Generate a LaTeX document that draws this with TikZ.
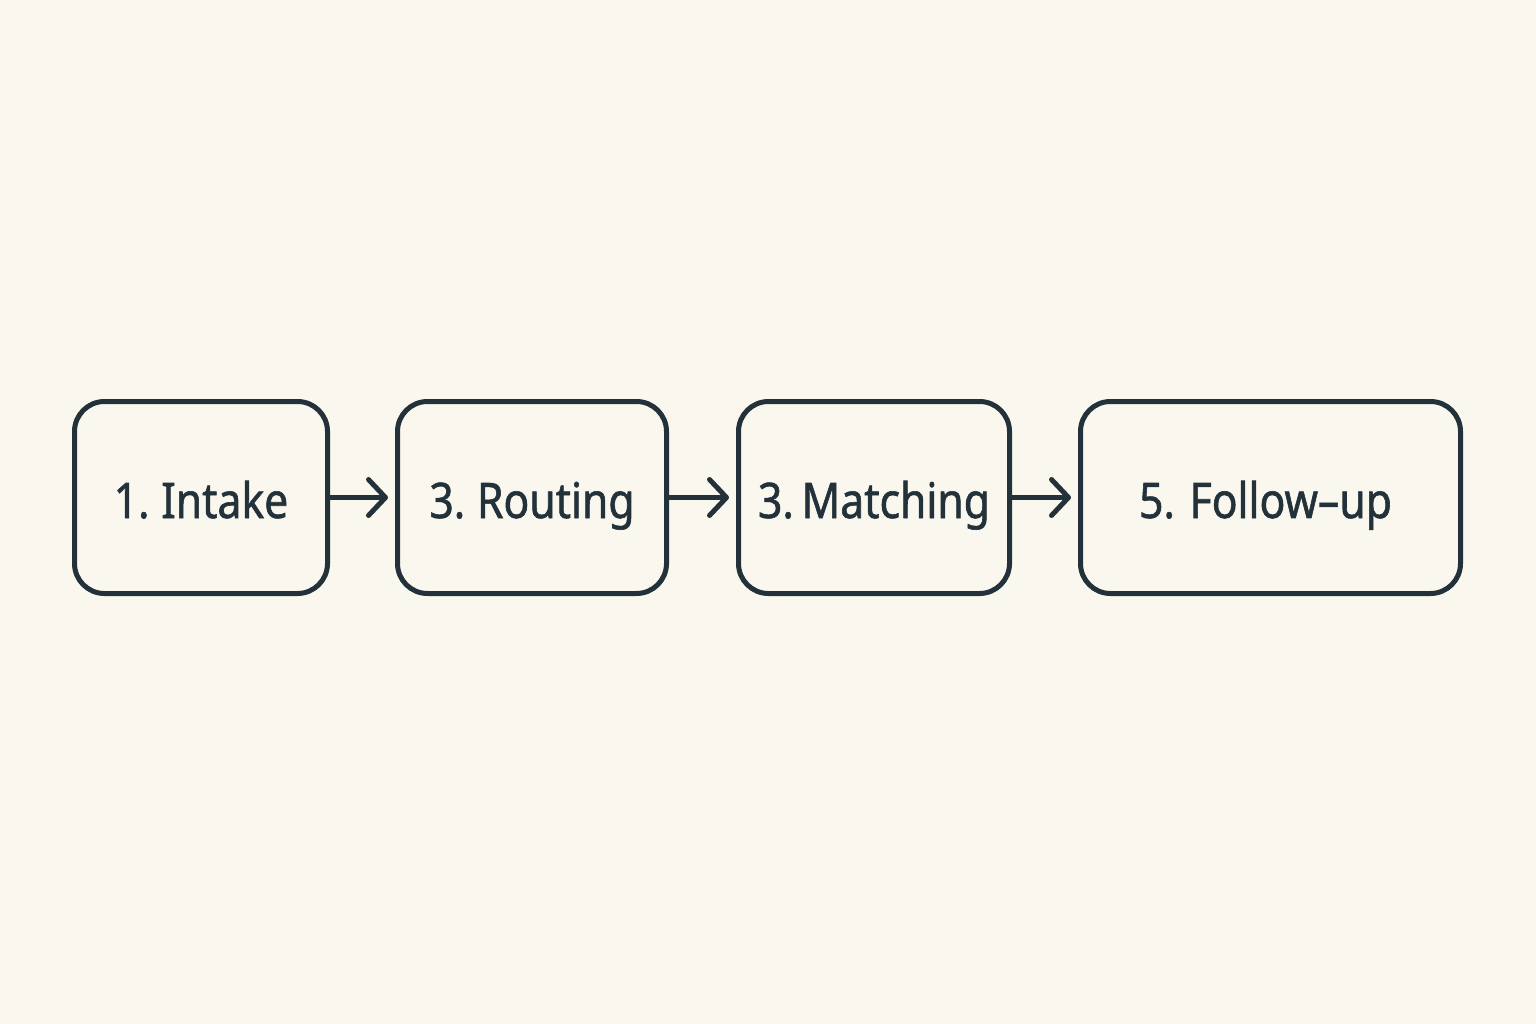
\documentclass[tikz,border=0pt]{standalone}
\usepackage{fontspec}
\setmainfont{Noto Sans}[FakeStretch=0.87,FakeBold=1.2]
\usetikzlibrary{arrows.meta}
\definecolor{bg}{HTML}{FAF7EE}
\definecolor{ink}{HTML}{23313A}
\begin{document}
\begin{tikzpicture}[x=1pt,y=-1pt,
  stepbox/.style={draw=ink, line width=5pt, rounded corners=30pt, minimum height=192pt,
    text=ink, font=\fontsize{49}{58}\selectfont, text height=41pt, text depth=0pt, inner sep=0pt},
  flow/.style={draw=ink, line width=5pt, line cap=round, line join=round,
    -{Straight Barb[length=17pt,width=36pt,line width=5pt,round]}, shorten >=7pt}]
  \fill[bg] (0,0) rectangle (1536,1024);
  \useasboundingbox (0,0) rectangle (1536,1024);
  \node[stepbox, minimum width=253pt] (s1) at (201,497.5) {1.\hspace{-3pt} Intake};
  \node[stepbox, minimum width=269pt] (s2) at (532,497.5) {3.\hspace{-3pt} Routing};
  \node[stepbox, minimum width=271pt] (s3) at (874,497.5) {3.\hspace{-7pt} Matching};
  \node[stepbox, minimum width=380pt] (s4) at (1270.5,497.5) {\hspace*{-10pt}5.\hspace{0pt} Follow–up};
  \draw[flow] (s1.east) -- (s2.west);
  \draw[flow] (s2.east) -- (s3.west);
  \draw[flow] (s3.east) -- (s4.west);
\end{tikzpicture}
\end{document}
